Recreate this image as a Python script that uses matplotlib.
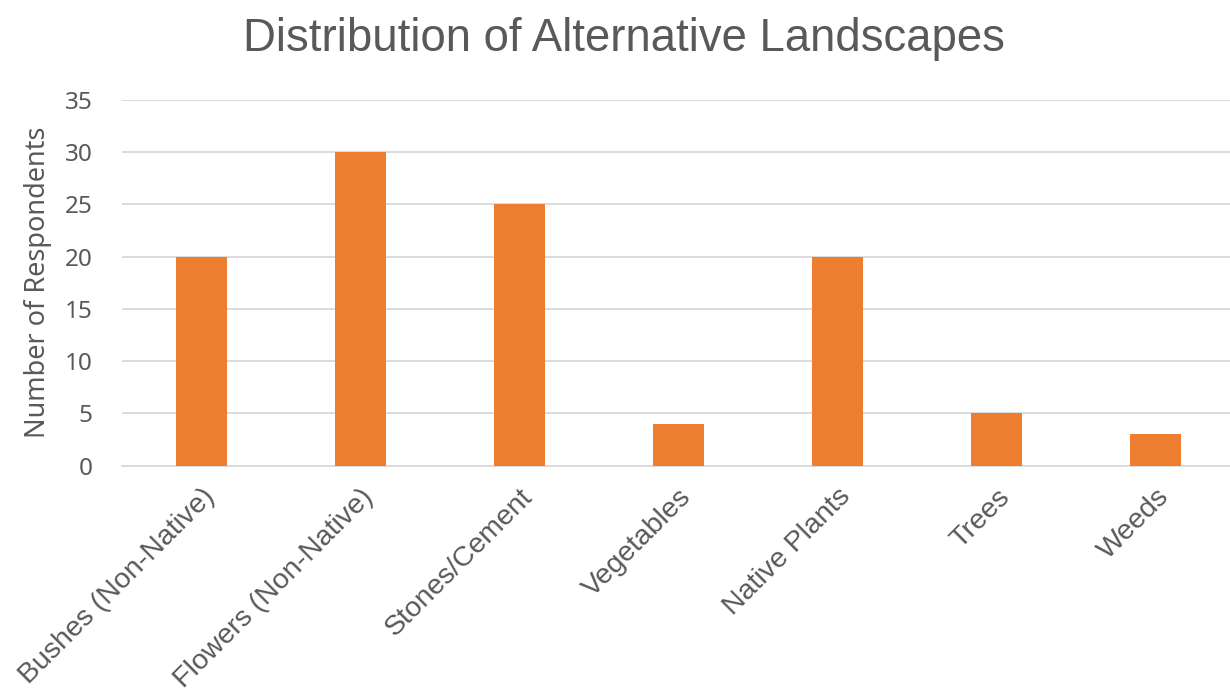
import matplotlib.pyplot as plt

# Survey counts per landscape type
categories = ['Bushes (Non-Native)', 'Flowers (Non-Native)', 'Stones/Cement',
              'Vegetables', 'Native Plants', 'Trees', 'Weeds']
respondents = [20, 30, 25, 4, 20, 5, 3]
yticks = [0, 5, 10, 15, 20, 25, 30, 35]

text_color = '#595959'
bar_color = '#ED7D31'

fig = plt.figure(figsize=(12.3, 6.93), dpi=100)
ax = fig.add_axes([0.0992, 0.328, 0.905, 0.528])

x = range(len(categories))
ax.bar(x, respondents, width=0.32, color=bar_color, zorder=3)

ax.set_xlim(-0.5, len(categories) - 0.5)
ax.set_ylim(0, 35)
ax.set_yticks(yticks)
ax.set_yticklabels([str(v) for v in yticks], family='Noto Sans', fontsize=17.5, color=text_color)
ax.yaxis.grid(True, color='#d9d9d9', linewidth=1.3, zorder=0)

ax.set_xticks(list(x))
ax.set_xticklabels(categories, rotation=45, ha='right', rotation_mode='anchor',
                   family='Liberation Sans', fontsize=20.5, color=text_color)
ax.tick_params(axis='both', length=0)
ax.tick_params(axis='x', pad=13)
ax.tick_params(axis='y', pad=21)

for side in ['top', 'right', 'left']:
    ax.spines[side].set_visible(False)
ax.spines['bottom'].set_color('#d9d9d9')
ax.spines['bottom'].set_linewidth(1.3)

ax.set_ylabel('Number of Respondents', family='Noto Sans', fontsize=19.5, color=text_color, labelpad=9)
fig.text(0.507, 0.944, 'Distribution of Alternative Landscapes', ha='center', va='center',
         family='Liberation Sans', fontsize=32.8, color=text_color)

fig.savefig('out.png', dpi=100)
